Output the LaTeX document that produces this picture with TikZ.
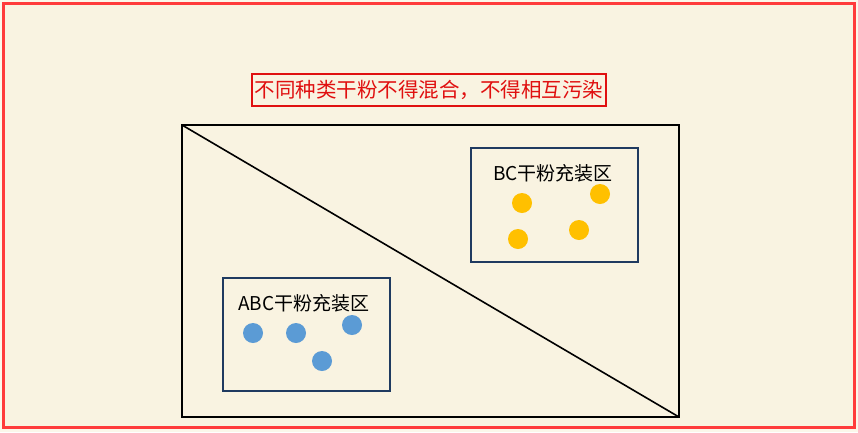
\documentclass[tikz,border=0pt]{standalone}
\usepackage{fontspec}
\newfontfamily\cjk{Noto Sans CJK SC}
\definecolor{bgcream}{HTML}{F9F3E1}
\definecolor{outerred}{HTML}{FF3B3B}
\definecolor{titlered}{HTML}{E01010}
\definecolor{navy}{HTML}{1F3A60}
\definecolor{dotblue}{HTML}{5B9BD5}
\definecolor{dotyellow}{HTML}{FFC000}
\begin{document}
\begin{tikzpicture}[x=1pt,y=-1pt,
  zonebox/.style={draw=navy,line width=2pt},
  bluedot/.style={circle,fill=dotblue,minimum size=20pt,inner sep=0pt},
  yellowdot/.style={circle,fill=dotyellow,minimum size=20pt,inner sep=0pt},
  zonelabel/.style={font=\cjk\fontsize{19}{19}\selectfont,inner sep=0pt}]
\useasboundingbox (0,0) rectangle (858,432);
\fill[bgcream!70!white] (0,0) rectangle (858,432);
\draw[outerred,line width=3pt,fill=bgcream] (3,3) rectangle (854.5,427.5);
\node[draw=titlered,line width=2pt,text=titlered,inner sep=2pt,minimum width=354pt,minimum height=32pt,font=\cjk\fontsize{20.5}{20.5}\selectfont] (title) at (429,90) {不同种类干粉不得混合，不得相互污染};
\coordinate (tl) at (182,125);
\coordinate (br) at (679,417);
\draw[line width=2.2pt] (tl) rectangle (br);
\draw[line width=1.6pt] (tl) -- (br);
\draw[zonebox] (471,148) rectangle (638,262);
\node[zonelabel] (bclabel) at (553,173) {BC干粉充装区};
\node[yellowdot] (y1) at (522,203) {};
\node[yellowdot] (y2) at (600,194) {};
\node[yellowdot] (y3) at (518,239) {};
\node[yellowdot] (y4) at (579,230) {};
\draw[zonebox] (223,278) rectangle (390,391);
\node[zonelabel] (abclabel) at (304,303) {ABC干粉充装区};
\node[bluedot] (b1) at (253,333) {};
\node[bluedot] (b2) at (296,333) {};
\node[bluedot] (b3) at (352,325) {};
\node[bluedot] (b4) at (322,361) {};
\end{tikzpicture}
\end{document}
